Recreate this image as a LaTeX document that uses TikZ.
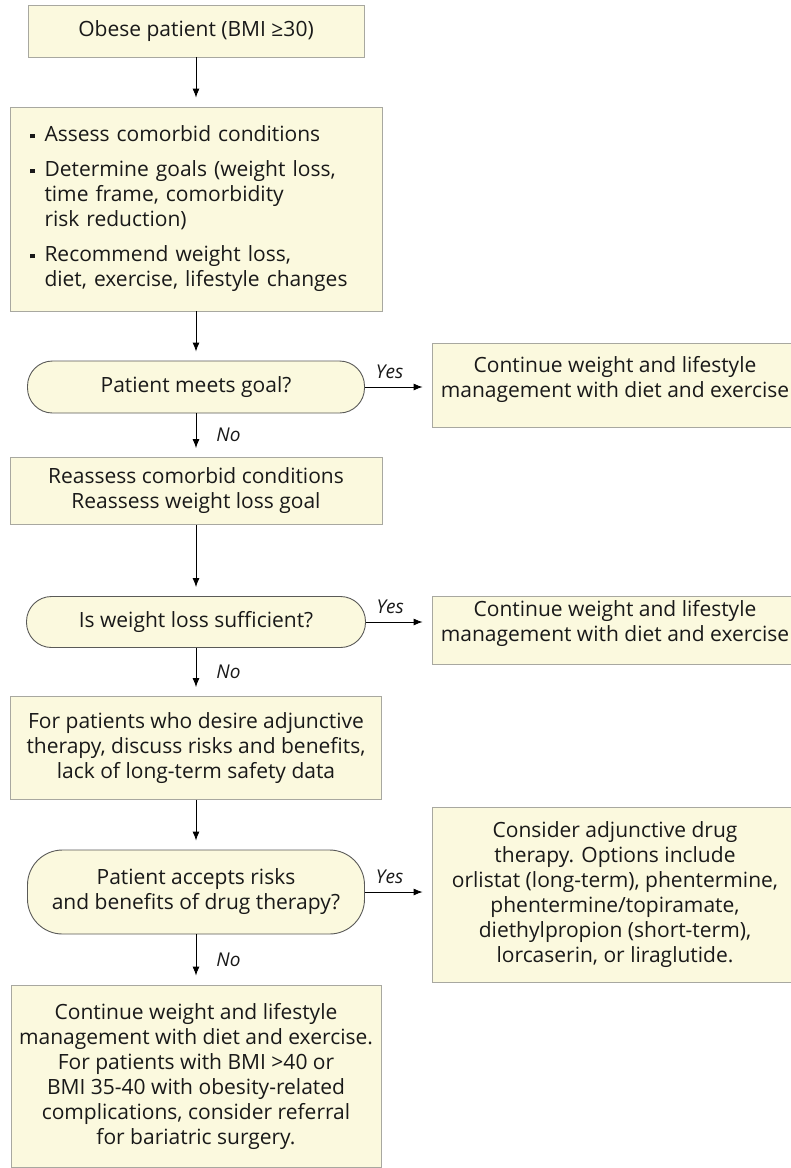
\documentclass[tikz,border=0pt]{standalone}
\usepackage{fontspec}
\setmainfont{Open Sans}
\usetikzlibrary{arrows.meta}
\definecolor{boxfill}{HTML}{FBF9DE}
\definecolor{boxline}{HTML}{A8A8A0}
\definecolor{decline}{HTML}{5A5A58}
\newcommand{\bulletmark}{\rule[3.5pt]{4.5pt}{4.5pt}\hspace{10pt}}
\newcommand{\bulletcont}{\hspace{14.5pt}}
\begin{document}
\begin{tikzpicture}[x=1pt,y=-1pt,
  every node/.style={font=\fontsize{21}{25}\selectfont, text=black!90},
  procbox/.style={draw=boxline, line width=0.8pt, fill=boxfill, align=center, inner sep=0pt},
  decbox/.style={draw=decline, line width=0.9pt, fill=boxfill, align=center, inner sep=0pt, rounded corners=25pt},
  flow/.style={-{Latex[length=9pt,width=7pt]}, line width=0.9pt, shorten >=9pt},
  answer/.style={font=\fontsize{19}{20}\itshape\selectfont, inner sep=0pt},
  noanswer/.style={answer, anchor=west, xshift=20pt},
  yesanswer/.style={answer, pos=0.37, anchor=south, yshift=8pt}
]
\useasboundingbox (0,0) rectangle (791,1168);
\clip (0,0) rectangle (791,1168);
\fill[white] (0,0) rectangle (791,1168);

% main column
\node[procbox, minimum width=336pt, minimum height=52pt] (start) at (196,31) {Obese patient (BMI ≥30)};
\node[procbox, minimum width=372pt, minimum height=204pt, text width=332pt, inner xsep=20pt, align=left] (assess) at (196,209)
  {\bulletmark Assess comorbid conditions\\[10pt]
   \bulletmark Determine goals (weight loss,\\
   \bulletcont time frame, comorbidity\\
   \bulletcont risk reduction)\\[10pt]
   \bulletmark Recommend weight loss,\\
   \bulletcont diet, exercise, lifestyle changes};
\node[decbox, minimum width=337pt, minimum height=52pt] (goal) at (196,387) {Patient meets goal?};
\node[procbox, minimum width=372pt, minimum height=67pt] (reassess) at (196,491)
  {Reassess comorbid conditions\\Reassess weight loss goal};
\node[decbox, minimum width=339pt, minimum height=51pt] (enough) at (196,622) {Is weight loss sufficient?};
\node[procbox, minimum width=371pt, minimum height=103pt] (discuss) at (196,748)
  {For patients who desire adjunctive\\therapy, discuss risks and benefits,\\lack of long-term safety data};
\node[decbox, minimum width=337pt, minimum height=84pt, rounded corners=35pt] (accept) at (196,892)
  {Patient accepts risks\\and benefits of drug therapy?};
\node[procbox, minimum width=370pt, minimum height=182pt] (surgery) at (196,1076)
  {Continue weight and lifestyle\\management with diet and exercise.\\For patients with BMI >40 or\\BMI 35-40 with obesity-related\\complications, consider referral\\for bariatric surgery.};

% outcome column
\node[procbox, minimum width=366pt, minimum height=84pt] (keep1) at (615,385)
  {Continue weight and lifestyle\\management with diet and exercise\\[-8pt]};
\node[procbox, minimum width=366pt, minimum height=68pt] (keep2) at (615,630)
  {Continue weight and lifestyle\\management with diet and exercise\\[-6pt]};
\node[procbox, minimum width=366pt, minimum height=175pt] (drugs) at (615,895)
  {Consider adjunctive drug\\therapy. Options include\\orlistat (long-term), phentermine,\\phentermine/topiramate,\\diethylpropion (short-term),\\lorcaserin, or liraglutide.};

% connectors
\draw[flow] (start) -- (assess);
\draw[flow] (assess) -- (goal);
\draw[flow] (goal) -- node[noanswer] {No} (reassess);
\draw[flow] (reassess) -- (enough);
\draw[flow] (enough) -- node[noanswer] {No} (discuss);
\draw[flow] (discuss) -- (accept);
\draw[flow] (accept) -- node[noanswer] {No} (surgery);
\draw[flow] (goal.east) -- node[yesanswer] {Yes} (goal.east -| keep1.west);
\draw[flow] (enough.east) -- node[yesanswer] {Yes} (enough.east -| keep2.west);
\draw[flow] (accept.east) -- node[yesanswer] {Yes} (accept.east -| drugs.west);
\end{tikzpicture}
\end{document}
